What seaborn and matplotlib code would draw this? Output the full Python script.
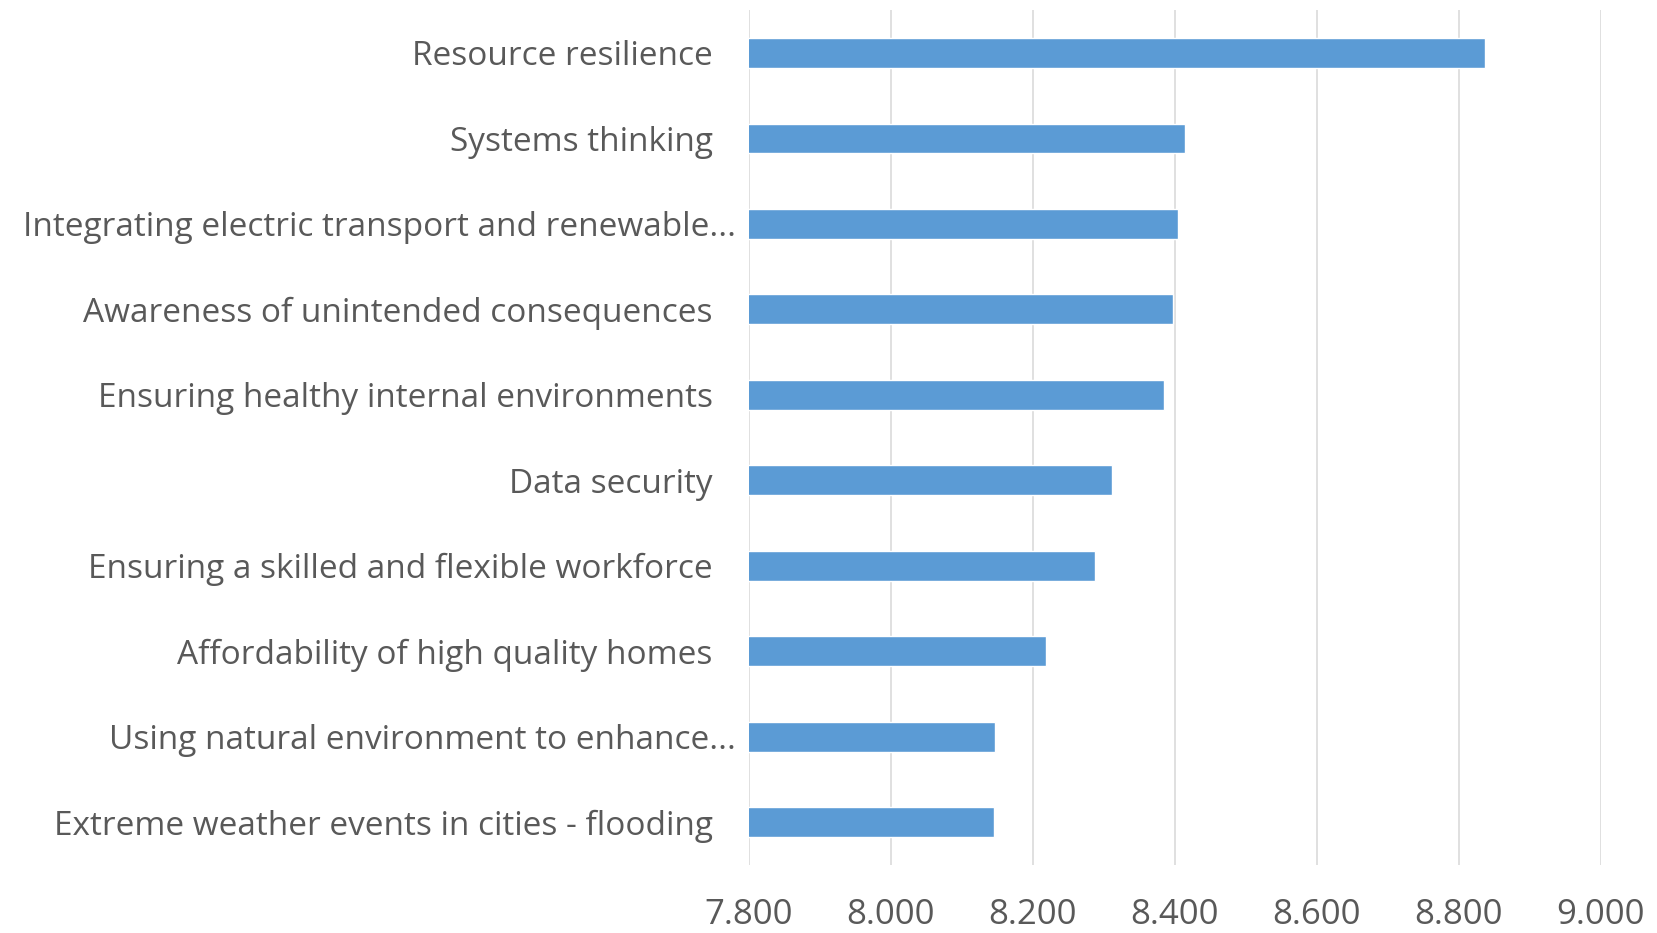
import matplotlib
matplotlib.use("Agg")
import matplotlib.pyplot as plt
import matplotlib.transforms as mtransforms
import seaborn as sns
import pandas as pd

# Values (top to bottom)
categories = [
    "Resource resilience",
    "Systems thinking",
    "Integrating electric transport and renewable...",
    "Awareness of unintended consequences",
    "Ensuring healthy internal environments",
    "Data security",
    "Ensuring a skilled and flexible workforce",
    "Affordability of high quality homes",
    "Using natural environment to enhance...",
    "Extreme weather events in cities - flooding",
]
scores = [8.837, 8.414, 8.405, 8.398, 8.385, 8.312, 8.287, 8.218, 8.147, 8.145]
x_ticks = [7.8, 8.0, 8.2, 8.4, 8.6, 8.8, 9.0]

df = pd.DataFrame({"Category": categories, "Score": scores})

sns.set_style("white")
plt.rcParams["font.family"] = ["Open Sans", "DejaVu Sans"]

fig = plt.figure(figsize=(16.57, 9.33), dpi=100)
ax = fig.add_axes([0.452, 0.073, 0.514, 0.916])

sns.barplot(data=df, x="Score", y="Category", color="#5B9BD5",
            saturation=1, width=0.35, ax=ax, zorder=3)

ax.set_xlim(x_ticks[0], x_ticks[-1])
ax.set_xticks(x_ticks)
ax.set_xticklabels([f"{t:.3f}" for t in x_ticks])
ax.xaxis.grid(True, color="#DDDDDD", linewidth=1.3, zorder=0)
ax.set_axisbelow(True)
for s in ax.spines.values():
    s.set_visible(False)
ax.set_xlabel("")
ax.set_ylabel("")
ax.tick_params(axis="y", length=0, pad=26, labelsize=24, labelcolor="#595959")
ax.tick_params(axis="x", length=0, pad=24, labelsize=25, labelcolor="#595959")

# truncated labels sit a bit closer to the axis, like Excel does
shift = mtransforms.ScaledTranslation(0.23, 0, fig.dpi_scale_trans)
for lbl in ax.get_yticklabels():
    if lbl.get_text().endswith("..."):
        lbl.set_transform(lbl.get_transform() + shift)

fig.savefig("out.png", dpi=100)
